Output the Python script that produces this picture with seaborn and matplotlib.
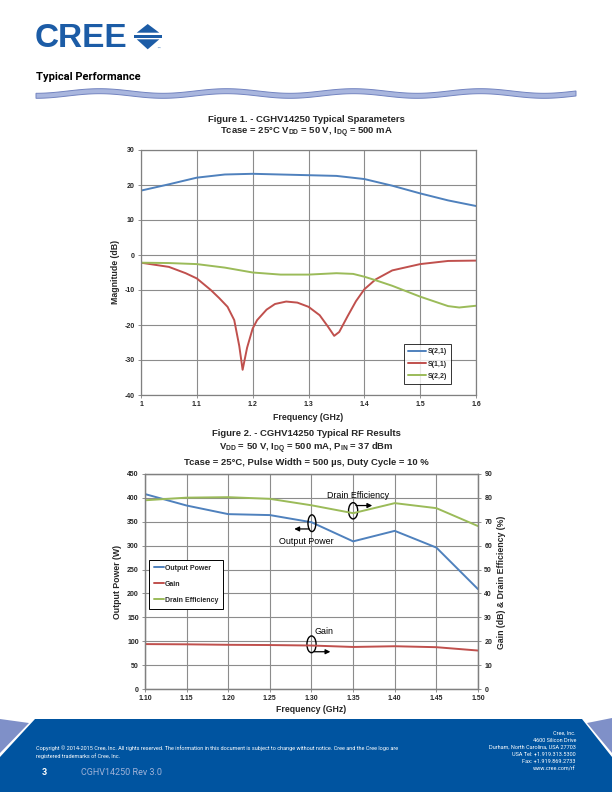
import matplotlib
matplotlib.use("Agg")  # sin GUI
import matplotlib.pyplot as plt
from matplotlib.patches import Polygon, Ellipse
import seaborn as sns
import pandas as pd
import numpy as np

# ─── DATOS — Figura 1 (parámetros S) ────────────────────────────────────────
s21_freq = [1.0, 1.05, 1.1, 1.15, 1.2, 1.25, 1.3, 1.35, 1.4, 1.45, 1.5, 1.55, 1.6]
s21_db = [18.4, 20.2, 22.1, 23.0, 23.2, 23.0, 22.8, 22.6, 21.7, 19.8, 17.6, 15.6, 14.0]

s11_freq = [1.0, 1.05, 1.08, 1.1, 1.125, 1.14, 1.155, 1.167, 1.176, 1.182, 1.19, 1.2,
            1.208, 1.225, 1.24, 1.26, 1.28, 1.3, 1.32, 1.335, 1.346, 1.355, 1.37,
            1.385, 1.4, 1.42, 1.45, 1.5, 1.55, 1.6]
s11_db = [-2.2, -3.4, -5.2, -6.7, -10.0, -12.3, -14.8, -18.6, -26.0, -32.8, -26.5, -21.0,
          -18.6, -15.6, -14.0, -13.3, -13.6, -14.8, -17.2, -20.5, -23.1, -22.0, -17.5,
          -13.2, -9.8, -7.0, -4.4, -2.6, -1.7, -1.6]

s22_freq = [1.0, 1.05, 1.1, 1.15, 1.2, 1.25, 1.3, 1.35, 1.38, 1.4, 1.42, 1.45, 1.5,
            1.55, 1.57, 1.6]
s22_db = [-2.2, -2.3, -2.6, -3.6, -5.0, -5.6, -5.6, -5.2, -5.4, -6.2, -7.2, -8.8, -11.9,
          -14.6, -15.0, -14.5]

# ─── DATOS — Figura 2 (resultados RF) ───────────────────────────────────────
rf_freq = [1.10, 1.15, 1.20, 1.25, 1.30, 1.35, 1.40, 1.45, 1.50]
pout_w = [408, 384, 366, 364, 349, 309, 331, 296, 209]
gain_db = [18.8, 18.7, 18.5, 18.4, 18.2, 17.6, 17.9, 17.5, 16.1]
drain_eff = [79.0, 80.1, 80.3, 79.6, 76.9, 73.6, 77.8, 75.7, 68.2]

AZUL, ROJO, VERDE = "#4F81BD", "#C0504D", "#9BBB59"
CREE_AZUL = "#1C5CA6"
PIE_AZUL = "#0054A0"
PIE_CLARO = "#7F90C8"
GRIS = "#8C8C8C"

sns.set_theme(style="white")
plt.rcParams["font.family"] = ["Liberation Sans", "DejaVu Sans"]
plt.rcParams["axes.unicode_minus"] = False  # guion simple en los negativos
plt.rcParams["mathtext.fontset"] = "custom"
plt.rcParams["mathtext.rm"] = "Liberation Sans:bold"
plt.rcParams["mathtext.bf"] = "Liberation Sans:bold"
plt.rcParams["mathtext.it"] = "Liberation Sans:bold"

W, H = 612, 792
fig = plt.figure(figsize=(6.12, 7.92), dpi=100)
fig.patch.set_facecolor("white")


def ejes_px(left, top, right, bottom):
    # crea ejes a partir de coordenadas en píxeles de la página
    return fig.add_axes([left / W, 1 - bottom / H, (right - left) / W, (bottom - top) / H])


def texto(x, y, s, **kw):
    fig.text(x / W, 1 - y / H, s, **kw)


# ─── DECORACIÓN DE LA PÁGINA ────────────────────────────────────────────────
deco = fig.add_axes([0, 0, 1, 1], zorder=0)
deco.set_xlim(0, W)
deco.set_ylim(H, 0)
deco.axis("off")

# logo CREE
texto(35, 47, "CREE", fontsize=24, fontweight="bold", color=CREE_AZUL, va="baseline",
      family=["Liberation Sans"])
deco.add_patch(Polygon([(147.7, 24), (136.7, 32.7), (159.3, 32.7)], closed=True, color=CREE_AZUL, lw=0))
deco.add_patch(Polygon([(134.3, 35), (161.7, 35), (161.7, 37.7), (134.3, 37.7)], closed=True, color=CREE_AZUL, lw=0))
deco.add_patch(Polygon([(136.7, 39.3), (159.3, 39.3), (147.7, 49.3)], closed=True, color=CREE_AZUL, lw=0))
texto(156, 50, "™", fontsize=3, color=CREE_AZUL, family=["DejaVu Sans"])

texto(36, 80, "Typical Performance", fontsize=8, fontweight="bold", color="black",
      va="baseline", family=["Roboto", "DejaVu Sans"])

# banda ondulada
xs = np.linspace(36, 576, 300)
yc = 93.5 + 2.3 * np.cos(2 * np.pi * (xs - 36) / 127)
banda = list(zip(xs, yc - 2.5)) + list(zip(xs[::-1], (yc + 2.5)[::-1]))
deco.add_patch(Polygon(banda, closed=True, facecolor="#A9B6DE", edgecolor="#7384C0", lw=0.7))

# pie de página
deco.add_patch(Polygon([(35, 719), (582, 719), (612, 757), (612, 792), (0, 792), (0, 757)],
                       closed=True, color=PIE_AZUL, lw=0))
deco.add_patch(Polygon([(0, 719), (29, 723), (0, 753)], closed=True, color=PIE_CLARO, lw=0))
deco.add_patch(Polygon([(587, 723), (612, 718), (612, 753)], closed=True, color=PIE_CLARO, lw=0))

pie_font = ["Roboto", "DejaVu Sans"]
texto(36, 750, "Copyright © 2014-2015 Cree, Inc. All rights reserved. The information in this document "
      "is subject to change without notice. Cree and the Cree logo are",
      fontsize=4, color="white", family=pie_font, va="baseline")
texto(36, 758, "registered trademarks of Cree, Inc.", fontsize=4, color="white", family=pie_font, va="baseline")
texto(42, 775, "3", fontsize=6.5, fontweight="bold", color="white", family=pie_font, va="baseline")
texto(81, 775, "CGHV14250 Rev 3.0", fontsize=6.5, color="#9FB2D8", family=pie_font, va="baseline")

direccion = ["Cree, Inc.", "4600 Silicon Drive", "Durham, North Carolina, USA 27703",
             "USA Tel: +1.919.313.5300", "Fax: +1.919.869.2733", "www.cree.com/rf"]
for i, linea in enumerate(direccion):
    texto(576, [734.5, 741.5, 748.5, 755.5, 763, 770.5][i], linea, fontsize=4, color="white",
          family=pie_font, ha="right", va="baseline")


def estilo(ax, grid=True):
    if grid:
        ax.grid(True, color=GRIS, linewidth=0.8)
    for sp in ax.spines.values():
        sp.set_color("#808080")
        sp.set_linewidth(0.9)
    ax.tick_params(labelsize=5, length=2.5, width=0.6, color="#808080", pad=2,
                   bottom=True, left=True)
    for lab in ax.get_xticklabels() + ax.get_yticklabels():
        lab.set_fontweight("bold")


# ─── FIGURA 1 ───────────────────────────────────────────────────────────────
texto(306, 119, "Figure 1. - CGHV14250 Typical Sparameters", fontsize=6.8, fontweight="bold",
      ha="center", va="center")
texto(306, 133, r"Tcase = 25°C V$_{\mathrm{DD}}$ = 50 V, I$_{\mathrm{DQ}}$ = 500 mA", fontsize=6.8,
      fontweight="bold", ha="center", va="center")

ax1 = ejes_px(141, 150, 476, 395)
sns.lineplot(x=s21_freq, y=s21_db, ax=ax1, color=AZUL, linewidth=1.4, label="S(2,1)")
sns.lineplot(x=s11_freq, y=s11_db, ax=ax1, color=ROJO, linewidth=1.4, label="S(1,1)")
sns.lineplot(x=s22_freq, y=s22_db, ax=ax1, color=VERDE, linewidth=1.4, label="S(2,2)")
ax1.set_xlim(1.0, 1.6)
ax1.set_ylim(-40, 30)
ax1.set_xticks([1.0, 1.1, 1.2, 1.3, 1.4, 1.5, 1.6])
ax1.set_xticklabels(["1", "1.1", "1.2", "1.3", "1.4", "1.5", "1.6"])
ax1.set_yticks(range(-40, 31, 10))
ax1.set_xlabel("")
ax1.set_ylabel("")
estilo(ax1)
leg1 = ax1.legend(loc="lower left", bbox_to_anchor=(0.785, 0.045), fontsize=5, frameon=True,
                  fancybox=False, handlelength=2.6, handletextpad=0.2, labelspacing=0.75,
                  borderpad=0.6, borderaxespad=0)
leg1.get_frame().set_edgecolor("black")
leg1.get_frame().set_linewidth(0.7)
for t in leg1.get_texts():
    t.set_fontweight("bold")

texto(308, 418, "Frequency (GHz)", fontsize=6.3, fontweight="bold", ha="center", va="center")
texto(116, 272, "Magnitude (dB)", fontsize=6.3, fontweight="bold", ha="center", va="center",
      rotation=90)

# ─── FIGURA 2 ───────────────────────────────────────────────────────────────
texto(306, 434, "Figure 2. - CGHV14250 Typical RF Results", fontsize=6.8, fontweight="bold",
      ha="center", va="center")
texto(306, 448, r"V$_{\mathrm{DD}}$ = 50 V, I$_{\mathrm{DQ}}$ = 500 mA, P$_{\mathrm{IN}}$ = 37 dBm",
      fontsize=6.8, fontweight="bold", ha="center", va="center")
texto(306, 462, "Tcase = 25°C, Pulse Width = 500 µs, Duty Cycle = 10 %", fontsize=6.8,
      fontweight="bold", ha="center", va="center")

ax2 = ejes_px(145, 474, 478, 689)
ax2b = ax2.twinx()
df_rf = pd.DataFrame({"freq": rf_freq, "pout": pout_w, "gain": gain_db, "eff": drain_eff})
sns.lineplot(data=df_rf, x="freq", y="pout", ax=ax2, color=AZUL, linewidth=1.4, legend=False)
sns.lineplot(data=df_rf, x="freq", y="gain", ax=ax2b, color=ROJO, linewidth=1.4, legend=False)
sns.lineplot(data=df_rf, x="freq", y="eff", ax=ax2b, color=VERDE, linewidth=1.4, legend=False)
ax2.set_xlim(1.10, 1.50)
ax2.set_ylim(0, 450)
ax2b.set_ylim(0, 90)
ax2.set_xticks(rf_freq)
ax2.set_xticklabels([f"{v:.2f}" for v in rf_freq])
ax2.set_yticks(range(0, 451, 50))
ax2b.set_yticks(range(0, 91, 10))
for a in (ax2, ax2b):
    a.set_xlabel("")
    a.set_ylabel("")
estilo(ax2)
estilo(ax2b, grid=False)
ax2b.tick_params(right=True, left=False)

lineas = [ax2.lines[0], ax2b.lines[0], ax2b.lines[1]]
leg2 = ax2b.legend(lineas, ["Output Power", "Gain", "Drain Efficiency"], loc="upper left",
                   bbox_to_anchor=(0.012, 0.6), fontsize=5, frameon=True, fancybox=False,
                   handlelength=1.5, handletextpad=0.1, labelspacing=1.3, borderpad=0.7,
                   borderaxespad=0, framealpha=1)
leg2.get_frame().set_edgecolor("black")
leg2.get_frame().set_linewidth(0.7)
for t in leg2.get_texts():
    t.set_fontweight("bold")

# anotaciones con elipse y flecha
ann = dict(fontsize=6.4, ha="center", va="center", color="black")
ax2.add_patch(Ellipse((1.3005, 347), 0.0095, 35, fill=False, ec="black", lw=1.0, zorder=5))
ax2.annotate("", xy=(1.276, 335), xytext=(1.3005, 335),
             arrowprops=dict(arrowstyle="-|>", color="black", lw=0.9, mutation_scale=7))
ax2.text(1.294, 308, "Output Power", **ann)

ax2.add_patch(Ellipse((1.350, 373), 0.0110, 34, fill=False, ec="black", lw=1.0, zorder=5))
ax2.annotate("", xy=(1.3763, 384), xytext=(1.350, 384),
             arrowprops=dict(arrowstyle="-|>", color="black", lw=0.9, mutation_scale=7))
ax2.text(1.356, 406, "Drain Efficiency", **ann)

ax2.add_patch(Ellipse((1.300, 93.5), 0.0110, 35, fill=False, ec="black", lw=1.0, zorder=5))
ax2.annotate("", xy=(1.326, 78), xytext=(1.300, 78),
             arrowprops=dict(arrowstyle="-|>", color="black", lw=0.9, mutation_scale=7))
ax2.text(1.315, 121, "Gain", **ann)

texto(311, 709, "Frequency (GHz)", fontsize=6.3, fontweight="bold", ha="center", va="center")
texto(118, 582, "Output Power (W)", fontsize=6.3, fontweight="bold", ha="center", va="center",
      rotation=90)
texto(501, 582, "Gain (dB) & Drain Efficiency (%)", fontsize=6.3, fontweight="bold", ha="center",
      va="center", rotation=90)

fig.savefig("out.png", dpi=100)
plt.close(fig)
